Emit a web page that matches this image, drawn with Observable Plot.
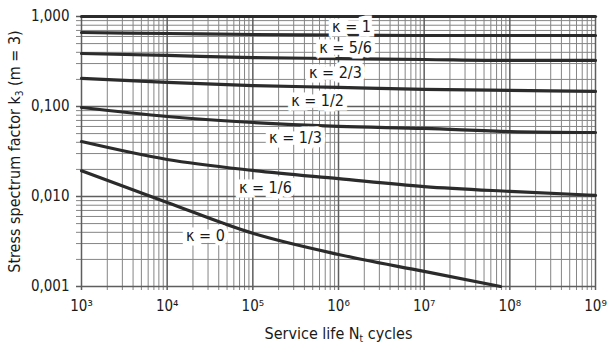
<!DOCTYPE html>
<html>
<head>
<meta charset="utf-8">
<script src="https://cdn.jsdelivr.net/npm/d3@7"></script>
<script src="https://cdn.jsdelivr.net/npm/@observablehq/plot@0.6"></script>
<style>
  html, body { margin: 0; padding: 0; background: #fff; }
  svg text { font-stretch: condensed; }
</style>
</head>
<body>
<div id="chart"></div>
<script>
// Service life N (cycles) at which the curves were read
const cycles = [1e3, 1e4, 1e5, 1e6, 1e7, 1e8, 1e9];
const kappa1   = [1, 1, 1, 1, 1, 1, 1];
const kappa5_6 = [0.664, 0.647, 0.631, 0.623, 0.615, 0.615, 0.615];
const kappa2_3 = [0.388, 0.369, 0.350, 0.341, 0.333, 0.325, 0.325];
const kappa1_2 = [0.205, 0.185, 0.171, 0.163, 0.155, 0.151, 0.147];
const kappa1_3 = [0.0975, 0.0774, 0.0664, 0.0600, 0.0570, 0.0527, 0.0514];
const kappa1_6 = [0.0408, 0.0258, 0.0195, 0.0158, 0.0129, 0.0114, 0.0103];
const cyclesK0 = [1e3, 1e4, 1e5, 1e6, 1e7, 7.8e7];
const kappa0   = [0.0193, 0.0086, 0.0039, 0.00227, 0.00147, 0.001];

// curve labels and their anchor (data units)
const labelText = ["κ = 1", "κ = 5/6", "κ = 2/3", "κ = 1/2", "κ = 1/3", "κ = 1/6", "κ = 0"];
const labelN    = [1.42e6, 1.21e6, 9.2e5, 5.7e5, 3.15e5, 1.4e5, 2.8e4];
const labelK    = [0.774, 0.453, 0.239, 0.1166, 0.0453, 0.0126, 0.00369];

// tick labels
const xTicks = [1e3, 1e4, 1e5, 1e6, 1e7, 1e8, 1e9];
const xTickLabels = ["10³", "10⁴", "10⁵", "10⁶", "10⁷", "10⁸", "10⁹"];
const yTicks = [0.001, 0.01, 0.1, 1];
const yTickLabels = ["0,001", "0,010", "0,100", "1,000"];

const series = [
  {name: "1", x: cycles, y: kappa1},
  {name: "5/6", x: cycles, y: kappa5_6},
  {name: "2/3", x: cycles, y: kappa2_3},
  {name: "1/2", x: cycles, y: kappa1_2},
  {name: "1/3", x: cycles, y: kappa1_3},
  {name: "1/6", x: cycles, y: kappa1_6},
  {name: "0", x: cyclesK0, y: kappa0}
];
const lineData = series.flatMap(s => s.x.map((x, i) => ({kappa: s.name, n: x, k: s.y[i]})));
const labels = labelText.map((t, i) => ({t, n: labelN[i], k: labelK[i]}));

// log grid (1..9 x 10^e)
const gridX = d3.range(3, 9).flatMap(e => d3.range(1, 10).map(m => m * 10 ** e)).concat([1e9]);
const gridY = d3.range(-3, 0).flatMap(e => d3.range(1, 10).map(m => +(m * 10 ** e).toPrecision(3))).concat([1]);
const isDecade = v => Math.abs(Math.log10(v) - Math.round(Math.log10(v))) < 1e-9;

const font = "'DejaVu Sans', sans-serif";

const chart = Plot.plot({
  width: 616,
  height: 351,
  marginLeft: 81,
  marginRight: 21,
  marginTop: 16,
  marginBottom: 65,
  style: {fontFamily: font, fontSize: "15px", color: "#1a1a1a", background: "#fff"},
  x: {type: "log", domain: [1e3, 1e9], ticks: xTicks,
      tickFormat: d => xTickLabels[xTicks.indexOf(d)], tickSize: 0, tickPadding: 14, label: null},
  y: {type: "log", domain: [0.001, 1], ticks: yTicks,
      tickFormat: d => yTickLabels[yTicks.indexOf(d)], tickSize: 0, tickPadding: 12, label: null},
  marks: [
    Plot.ruleX(gridX.filter(v => !isDecade(v)), {stroke: "#858585", strokeWidth: 1, insetBottom: -4}),
    Plot.ruleY(gridY.filter(v => !isDecade(v)), {stroke: "#858585", strokeWidth: 1, insetLeft: -5}),
    Plot.ruleX(gridX.filter(isDecade), {stroke: "#5e5e5e", strokeWidth: 1.5, insetBottom: -4}),
    Plot.ruleY(gridY.filter(isDecade), {stroke: "#5e5e5e", strokeWidth: 1.5, insetLeft: -5}),
    Plot.line(lineData, {x: "n", y: "k", z: "kappa", stroke: "#2b2b2b", strokeWidth: 3.2, curve: "monotone-x"}),
    Plot.text(labels, {x: "n", y: "k", text: "t", fill: "#1a1a1a", fontSize: 16,
      stroke: "white", strokeWidth: 9, strokeLinejoin: "miter", paintOrder: "stroke"}),
    Plot.text(["Stress spectrum factor k3 (m = 3)"], {frameAnchor: "left", textAnchor: "middle", dx: -67, rotate: -90,
      fontSize: 16, fill: "#1a1a1a", className: "ylab"}),
    Plot.text(["Service life Nt cycles"], {frameAnchor: "bottom", textAnchor: "middle", dy: 52,
      fontSize: 16, fill: "#1a1a1a", className: "xlab"})
  ]
});

document.getElementById("chart").appendChild(chart);

// add subscripts to axis titles
d3.select(chart).select("g.ylab text")
  .html('Stress spectrum factor k<tspan font-size="10" dy="3">3</tspan><tspan dy="-3"> (m = 3)</tspan>');
d3.select(chart).select("g.xlab text")
  .html('Service life N<tspan font-size="10" dy="3">t</tspan><tspan dy="-3"> cycles</tspan>');
</script>
</body>
</html>
